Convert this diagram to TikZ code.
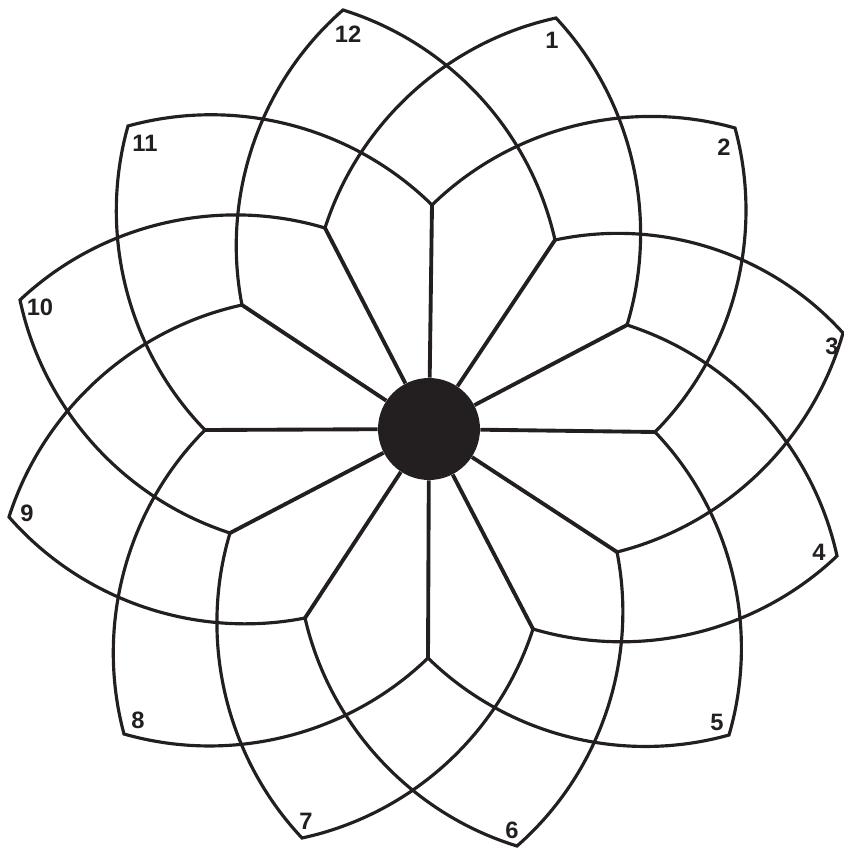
\documentclass[tikz,border=0pt]{standalone}
\usepackage{fontspec}
\setmainfont{Liberation Sans}
\usepackage{tikz}
\definecolor{cizgi}{HTML}{231F20}

\begin{document}
\begin{tikzpicture}[x=0.02cm,y=-0.02cm,
  yaprak/.style={draw=cizgi,line width=1.8pt,line join=miter,line cap=round,bend left=30,looseness=0.91},
  kol/.style={draw=cizgi,line width=2.2pt},
  merkez/.style={circle,fill=cizgi,minimum size=2.04cm,inner sep=0pt},
  numara/.style={text=cizgi,font=\fontsize{13.5}{15}\selectfont\bfseries,inner sep=0pt}]
\useasboundingbox (0,0) rectangle (844,848);
% spoke ends
\coordinate (s12) at (432,205);
\coordinate (s1) at (555,240);
\coordinate (s2) at (627,325);
\coordinate (s3) at (655,432);
\coordinate (s4) at (617,552);
\coordinate (s5) at (533,629);
\coordinate (s6) at (428,658);
\coordinate (s7) at (305,618);
\coordinate (s8) at (230,533);
\coordinate (s9) at (205,430);
\coordinate (s10) at (242,305);
\coordinate (s11) at (325,228);
% petal tips
\coordinate (t1) at (556,18);
\coordinate (t2) at (735,128);
\coordinate (t3) at (843,333);
\coordinate (t4) at (837,556);
\coordinate (t5) at (729,735);
\coordinate (t6) at (517,846);
\coordinate (t7) at (302,838);
\coordinate (t8) at (124,734);
\coordinate (t9) at (9,517);
\coordinate (t10) at (20,300);
\coordinate (t11) at (128,126);
\coordinate (t12) at (343,10);
% petals
\draw[yaprak] (s11) to (t1) to (s2);
\draw[yaprak] (s12) to (t2) to (s3);
\draw[yaprak] (s1) to (t3) to (s4);
\draw[yaprak] (s2) to (t4) to (s5);
\draw[yaprak] (s3) to (t5) to (s6);
\draw[yaprak] (s4) to (t6) to (s7);
\draw[yaprak] (s5) to (t7) to (s8);
\draw[yaprak] (s6) to (t8) to (s9);
\draw[yaprak] (s7) to (t9) to (s10);
\draw[yaprak] (s8) to (t10) to (s11);
\draw[yaprak] (s9) to (t11) to (s12);
\draw[yaprak] (s10) to (t12) to (s1);
% hub and spokes
\node[merkez] (hub) at (429,429) {};
\draw[kol] (hub) -- (s12);
\draw[kol] (hub) -- (s1);
\draw[kol] (hub) -- (s2);
\draw[kol] (hub) -- (s3);
\draw[kol] (hub) -- (s4);
\draw[kol] (hub) -- (s5);
\draw[kol] (hub) -- (s6);
\draw[kol] (hub) -- (s7);
\draw[kol] (hub) -- (s8);
\draw[kol] (hub) -- (s9);
\draw[kol] (hub) -- (s10);
\draw[kol] (hub) -- (s11);
% numbers
\node[numara] (n1) at (552,40) {1};
\node[numara] (n2) at (724,147) {2};
\node[numara] (n3) at (832,346) {3};
\node[numara] (n4) at (819,552) {4};
\node[numara] (n5) at (717,722) {5};
\node[numara] (n6) at (512,830) {6};
\node[numara] (n7) at (306,821) {7};
\node[numara] (n8) at (138,720) {8};
\node[numara] (n9) at (27,513) {9};
\node[numara] (n10) at (40,307) {10};
\node[numara] (n11) at (145,143) {11};
\node[numara] (n12) at (348,34) {12};
\end{tikzpicture}
\end{document}
